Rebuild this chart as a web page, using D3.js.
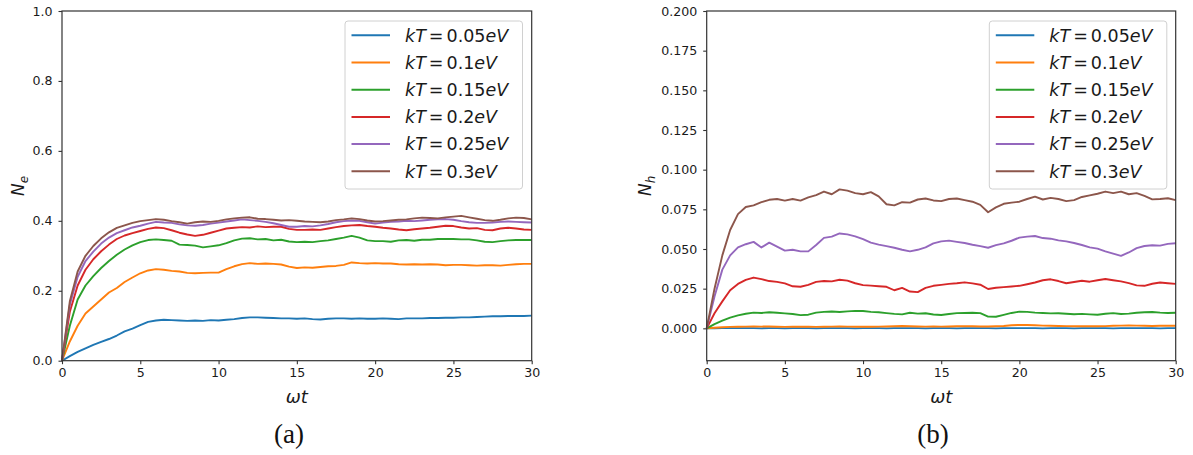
<!DOCTYPE html>
<html>
<head>
<meta charset="utf-8">
<script src="https://cdn.jsdelivr.net/npm/d3@7"></script>
<style>
  body { margin: 0; background: #fff; }
  svg { display: block; font-family: "DejaVu Sans", sans-serif; }
</style>
</head>
<body>
<div id="chart"></div>
<script>
// time grid, omega*t from 0 to 30 in steps of 0.5
const omegaT = d3.range(0, 30.001, 0.5);

const kTLabels = ["0.05", "0.1", "0.15", "0.2", "0.25", "0.3"];
const colors = ["#1f77b4", "#ff7f0e", "#2ca02c", "#d62728", "#9467bd", "#8c564b"];

// panel (a): N_e
const ne005 = [0,0.013,0.025,0.035,0.045,0.054,0.062,0.072,0.084,0.092,0.102,0.111,0.115,0.117,0.116,0.115,0.114,0.115,0.114,0.116,0.115,0.117,0.119,0.122,0.124,0.124,0.123,0.122,0.121,0.121,0.120,0.121,0.119,0.118,0.120,0.121,0.121,0.120,0.121,0.120,0.120,0.121,0.120,0.119,0.121,0.121,0.121,0.122,0.122,0.123,0.123,0.124,0.124,0.125,0.126,0.127,0.127,0.128,0.128,0.128,0.129];
const ne01 = [0,0.055,0.100,0.135,0.155,0.175,0.195,0.208,0.225,0.238,0.250,0.258,0.262,0.260,0.257,0.255,0.251,0.250,0.251,0.252,0.252,0.262,0.270,0.276,0.279,0.277,0.278,0.277,0.275,0.269,0.265,0.267,0.266,0.268,0.270,0.271,0.274,0.281,0.279,0.278,0.279,0.278,0.278,0.276,0.275,0.276,0.275,0.276,0.275,0.273,0.274,0.274,0.273,0.272,0.273,0.273,0.272,0.274,0.276,0.277,0.277];
const ne015 = [0,0.100,0.175,0.215,0.242,0.265,0.285,0.303,0.318,0.330,0.339,0.345,0.347,0.345,0.343,0.332,0.331,0.329,0.324,0.327,0.330,0.336,0.344,0.349,0.350,0.347,0.348,0.344,0.346,0.341,0.339,0.340,0.339,0.342,0.344,0.348,0.352,0.357,0.352,0.344,0.342,0.342,0.340,0.344,0.345,0.343,0.346,0.346,0.348,0.348,0.348,0.347,0.347,0.344,0.340,0.339,0.342,0.344,0.345,0.345,0.345];
const ne02 = [0,0.140,0.215,0.260,0.290,0.313,0.332,0.348,0.358,0.365,0.371,0.377,0.381,0.379,0.373,0.366,0.361,0.357,0.360,0.366,0.372,0.378,0.380,0.382,0.381,0.384,0.382,0.383,0.383,0.377,0.374,0.374,0.375,0.374,0.378,0.382,0.385,0.387,0.388,0.385,0.383,0.380,0.378,0.375,0.373,0.376,0.378,0.380,0.383,0.386,0.385,0.381,0.378,0.379,0.374,0.373,0.378,0.380,0.378,0.375,0.374];
const ne025 = [0,0.160,0.240,0.285,0.312,0.335,0.352,0.365,0.373,0.381,0.386,0.392,0.397,0.395,0.394,0.390,0.387,0.386,0.388,0.392,0.395,0.398,0.401,0.404,0.402,0.400,0.397,0.393,0.388,0.383,0.383,0.385,0.384,0.387,0.391,0.396,0.399,0.401,0.400,0.396,0.392,0.395,0.397,0.398,0.400,0.399,0.401,0.403,0.404,0.405,0.403,0.399,0.396,0.394,0.394,0.395,0.397,0.398,0.397,0.396,0.395];
const ne03 = [0,0.170,0.255,0.300,0.328,0.350,0.367,0.380,0.387,0.394,0.399,0.402,0.405,0.403,0.399,0.396,0.392,0.396,0.398,0.397,0.400,0.404,0.407,0.409,0.410,0.406,0.405,0.403,0.401,0.402,0.400,0.398,0.397,0.396,0.398,0.402,0.404,0.407,0.405,0.401,0.398,0.399,0.401,0.403,0.404,0.407,0.409,0.408,0.407,0.410,0.412,0.414,0.410,0.406,0.402,0.400,0.403,0.407,0.409,0.408,0.404];

// panel (b): N_h
const nh005 = [0,0,0.0001,0.0001,0.0001,0.0001,0.0001,0,0.0001,0.0001,0,0.0001,0.0001,0.0001,0,0.0001,0.0001,0.0001,0.0001,0,0.0001,0.0001,0.0001,0,0.0001,0.0001,0.0001,0.0001,0,0.0001,0.0001,0.0001,0,0.0001,0.0001,0.0001,0.0001,0,0.0001,0.0001,0.0001,0.0001,0.0001,0,0.0001,0.0001,0.0001,0,0.0001,0.0001,0.0001,0.0001,0,0.0001,0.0001,0.0001,0.0001,0.0001,0,0.0001,0.0001];
const nh01 = [0,0.0004,0.0007,0.0009,0.0010,0.0011,0.0012,0.0011,0.0012,0.0010,0.0009,0.0010,0.0011,0.0010,0.0009,0.0010,0.0011,0.0012,0.0011,0.0010,0.0011,0.0010,0.0011,0.0012,0.0013,0.0015,0.0013,0.0012,0.0011,0.0012,0.0011,0.0012,0.0013,0.0014,0.0013,0.0012,0.0012,0.0013,0.0015,0.0019,0.0022,0.0021,0.0019,0.0017,0.0016,0.0015,0.0014,0.0013,0.0013,0.0014,0.0013,0.0014,0.0016,0.0017,0.0018,0.0017,0.0016,0.0015,0.0016,0.0017,0.0016];
const nh015 = [0,0.0027,0.0048,0.0068,0.0082,0.0092,0.0099,0.0097,0.0101,0.0098,0.0094,0.0090,0.0083,0.0086,0.0099,0.0104,0.0106,0.0103,0.0107,0.0110,0.0109,0.0104,0.0101,0.0096,0.0091,0.0088,0.0098,0.0093,0.0095,0.0087,0.0084,0.0090,0.0096,0.0097,0.0098,0.0096,0.0074,0.0073,0.0085,0.0097,0.0105,0.0104,0.0099,0.0097,0.0094,0.0095,0.0092,0.0089,0.0091,0.0088,0.0086,0.0092,0.0096,0.0090,0.0093,0.0098,0.0101,0.0103,0.0099,0.0097,0.0098];
const nh02 = [0,0.0095,0.0170,0.0240,0.0280,0.0305,0.0320,0.0310,0.0298,0.0293,0.0283,0.0265,0.0262,0.0274,0.0293,0.0298,0.0296,0.0306,0.0301,0.0284,0.0272,0.0269,0.0265,0.0262,0.0240,0.0255,0.0232,0.0228,0.0255,0.0268,0.0274,0.0280,0.0284,0.0290,0.0283,0.0275,0.0248,0.0256,0.0260,0.0264,0.0268,0.0278,0.0289,0.0303,0.0309,0.0298,0.0284,0.0292,0.0300,0.0294,0.0303,0.0311,0.0303,0.0296,0.0285,0.0271,0.0268,0.0281,0.0289,0.0284,0.0280];
const nh025 = [0,0.0200,0.0370,0.0460,0.0510,0.0530,0.0545,0.0510,0.0540,0.0515,0.0490,0.0495,0.0485,0.0485,0.0525,0.0570,0.0578,0.0598,0.0592,0.0580,0.0562,0.0540,0.0528,0.0518,0.0508,0.0495,0.0485,0.0495,0.0510,0.0535,0.0548,0.0553,0.0545,0.0538,0.0527,0.0518,0.0508,0.0524,0.0535,0.0552,0.0572,0.0578,0.0582,0.0569,0.0565,0.0554,0.0548,0.0538,0.0525,0.0510,0.0502,0.0485,0.0471,0.0457,0.0478,0.0505,0.0519,0.0524,0.0521,0.0532,0.0536];
const nh03 = [0,0.0250,0.0460,0.0620,0.0720,0.0765,0.0775,0.0795,0.0810,0.0815,0.0805,0.0815,0.0805,0.0825,0.0840,0.0862,0.0845,0.0876,0.0868,0.0852,0.0845,0.0858,0.0832,0.0782,0.0775,0.0795,0.0792,0.0812,0.0818,0.0806,0.0802,0.0815,0.0818,0.0808,0.0798,0.0778,0.0732,0.0762,0.0785,0.0792,0.0798,0.0815,0.0830,0.0812,0.0822,0.0815,0.0802,0.0808,0.0828,0.0838,0.0848,0.0862,0.0852,0.0862,0.0845,0.0852,0.0835,0.0813,0.0815,0.0820,0.0808];

const xTicks = [0, 5, 10, 15, 20, 25, 30];
const neTicks = [0, 0.2, 0.4, 0.6, 0.8, 1.0];
const nhTicks = [0, 0.025, 0.05, 0.075, 0.1, 0.125, 0.15, 0.175, 0.2];

const W = 1193, H = 455;
const svg = d3.select("#chart").append("svg")
    .attr("width", W)
    .attr("height", H);

function drawPanel(p) {
    const x = d3.scaleLinear().domain([0, 30]).range([p.left, p.right]);
    const y = d3.scaleLinear().domain(p.yDomain).range([p.bottom, p.top]);
    const g = svg.append("g");

    // lines
    const line = d3.line()
        .x((d, i) => x(omegaT[i]))
        .y(d => y(d));
    p.series.forEach((s, i) => {
        g.append("path")
            .datum(s)
            .attr("fill", "none")
            .attr("stroke", colors[i])
            .attr("stroke-width", 1.9)
            .attr("stroke-linejoin", "round")
            .attr("d", line);
    });

    // axes
    const xAxis = g.append("g")
        .attr("transform", `translate(0,${p.bottom})`)
        .call(d3.axisBottom(x).tickValues(xTicks).tickSize(3.5).tickPadding(4).tickFormat(d3.format("d")));
    const yAxis = g.append("g")
        .attr("transform", `translate(${p.left},0)`)
        .call(d3.axisLeft(y).tickValues(p.yTicks).tickSize(3.5).tickPadding(6).tickFormat(p.fmt));
    [xAxis, yAxis].forEach(a => {
        a.select(".domain").remove();
        a.selectAll(".tick line").attr("stroke", "#333").attr("stroke-width", 1.1);
        a.selectAll(".tick text")
            .attr("fill", "#1a1a1a")
            .style("font-size", "12.6px")
            .style("font-family", "DejaVu Sans");
    });

    // spines
    g.append("rect")
        .attr("x", p.left).attr("y", p.top)
        .attr("width", p.right - p.left).attr("height", p.bottom - p.top)
        .attr("fill", "none")
        .attr("stroke", "#333")
        .attr("stroke-width", 1.2);

    // x label
    g.append("text")
        .attr("x", (p.left + p.right) / 2)
        .attr("y", 403)
        .attr("text-anchor", "middle")
        .style("font-size", "18px")
        .style("font-style", "italic")
        .attr("fill", "#1a1a1a")
        .text("ωt");

    // y label
    const yl = g.append("text")
        .attr("transform", `translate(${p.left - p.ylabOff},${(p.top + p.bottom) / 2}) rotate(-90)`)
        .attr("text-anchor", "middle")
        .attr("fill", "#1a1a1a")
        .style("font-size", "17px")
        .style("font-style", "italic");
    yl.append("tspan").text("N");
    yl.append("tspan").attr("dy", 4).style("font-size", "12px").text(p.sub);

    // panel caption
    g.append("text")
        .attr("x", p.capX)
        .attr("y", 443)
        .attr("text-anchor", "middle")
        .style("font-family", "'Liberation Serif', serif")
        .style("font-size", "27px")
        .attr("fill", "#111")
        .text(p.caption);

    // legend
    const lg = g.append("g");
    lg.append("rect")
        .attr("x", p.legX).attr("y", 21)
        .attr("width", 177.5).attr("height", 168)
        .attr("rx", 3)
        .attr("fill", "#fff").attr("fill-opacity", 0.8)
        .attr("stroke", "#d0d0d0").attr("stroke-width", 1);
    kTLabels.forEach((lab, i) => {
        const cy = 35.3 + i * 27.2;
        lg.append("line")
            .attr("x1", p.legX + 6.5).attr("x2", p.legX + 45)
            .attr("y1", cy).attr("y2", cy)
            .attr("stroke", colors[i]).attr("stroke-width", 2);
        const t = lg.append("text")
            .attr("x", p.legX + 60)
            .attr("y", cy + 6.3)
            .attr("fill", "#1a1a1a")
            .style("font-size", "17.5px");
        t.append("tspan").style("font-style", "italic").text("kT");
        t.append("tspan").attr("dx", 3).text("=");
        t.append("tspan").attr("dx", 3).text(lab);
        t.append("tspan").style("font-style", "italic").text("eV");
    });
}

drawPanel({
    left: 62, right: 531.7, top: 11, bottom: 360.7,
    yDomain: [0, 1], yTicks: neTicks, fmt: d3.format(".1f"),
    series: [ne005, ne01, ne015, ne02, ne025, ne03],
    sub: "e", ylabOff: 38, caption: "(a)", capX: 289, legX: 345
});

drawPanel({
    left: 706.7, right: 1175.7, top: 11, bottom: 360.7,
    yDomain: [-0.0204, 0.2], yTicks: nhTicks, fmt: d3.format(".3f"),
    series: [nh005, nh01, nh015, nh02, nh025, nh03],
    sub: "h", ylabOff: 56, caption: "(b)", capX: 933, legX: 989.3
});
</script>
</body>
</html>
